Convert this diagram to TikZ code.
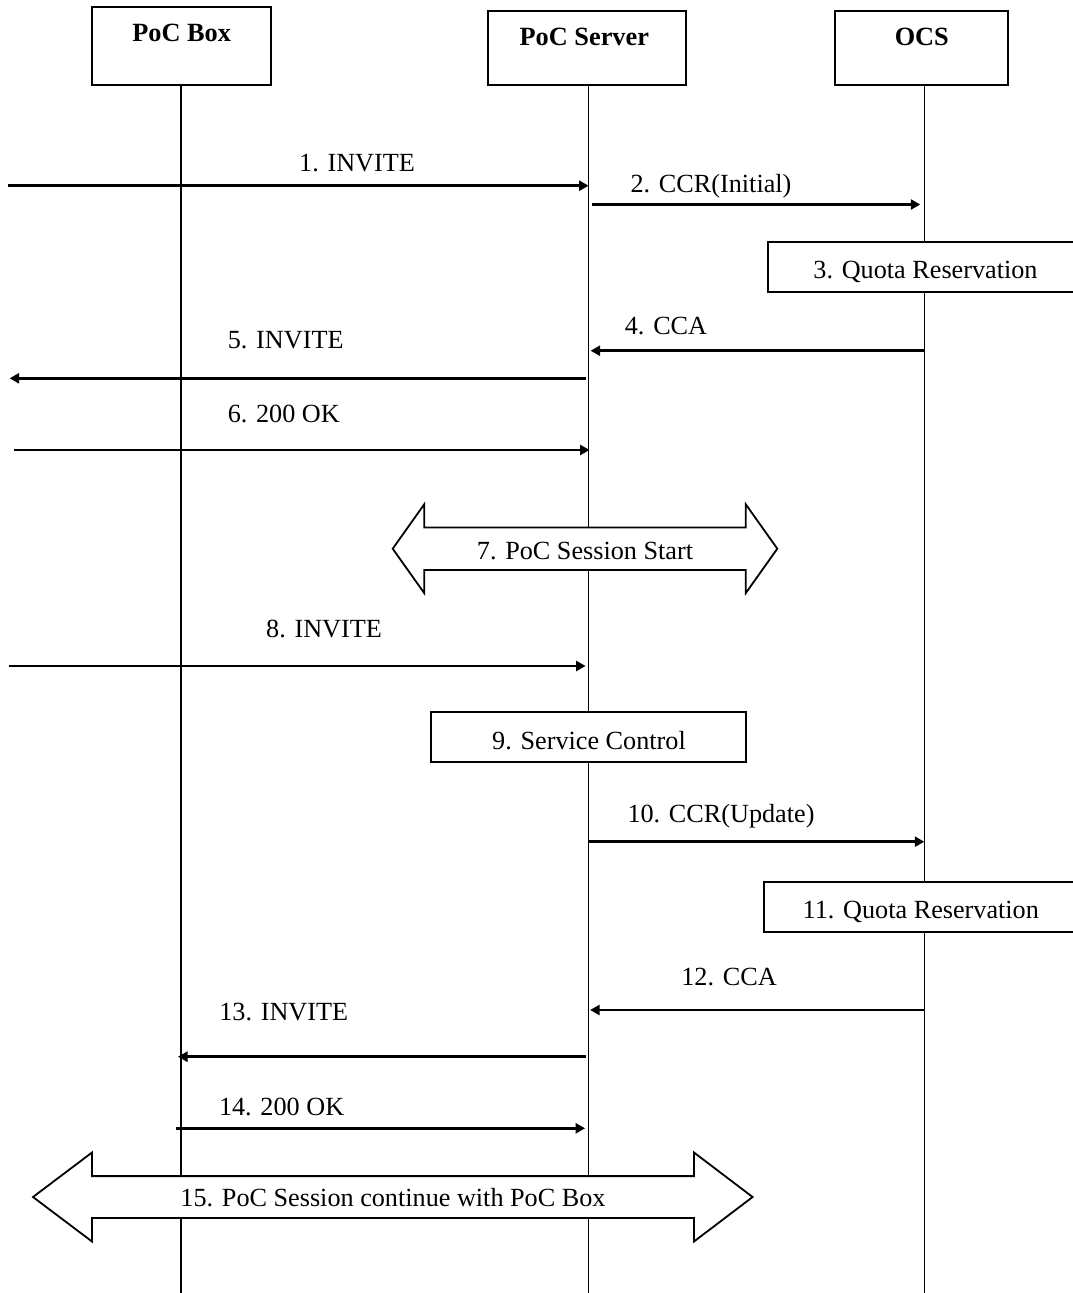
\documentclass[tikz,border=0pt]{standalone}
\usepackage{fontspec}
\setmainfont{Liberation Serif}
\usetikzlibrary{arrows.meta}
\begin{document}
\begin{tikzpicture}[x=1pt,y=-1pt,
  every node/.style={font=\fontsize{26.2}{31}\selectfont, inner sep=0pt, outer sep=0pt},
  actor/.style={draw, line width=1.8pt, fill=white},
  life/.style={line width=1.3pt},
  msg/.style={line width=2.6pt, -{Triangle[length=9.5pt,width=10pt]}},
  proc/.style={draw, line width=1.8pt, fill=white},
  lbl/.style={anchor=base},
  ttl/.style={anchor=base, font=\fontsize{26.3}{31}\selectfont\bfseries},
  session/.style={draw, line width=1.8pt, fill=white, line join=miter}
]
\useasboundingbox (0,0) rectangle (1072,1293);

% actors
\node[actor, minimum width=179.3pt, minimum height=78.6pt] (box) at (181.35,46.0) {};
\node[actor, minimum width=198.3pt, minimum height=74.6pt] (srv) at (586.85,48.0) {};
\node[actor, minimum width=173.2pt, minimum height=74.6pt] (ocs) at (921.2,48.0) {};
\node[ttl] (boxT) at (181.7,41.7) {PoC Box};
\node[ttl] (srvT) at (584.3,45) {PoC Server};
\node[ttl] (ocsT) at (921.8,45) {OCS};

% lifelines
\coordinate (boxtop) at (181,85.3);
\coordinate (srvtop) at (588.6,85.3);
\coordinate (ocstop) at (924.3,85.3);
\coordinate (bot) at (0,1293);
\draw[life] (boxtop) -- (boxtop |- bot);
\draw[life] (srvtop) -- (srvtop |- bot);
\draw[life] (ocstop) -- (ocstop |- bot);

% messages
\coordinate (m1) at (8,185.7);
\draw[msg] (m1) -- (srvtop |- m1);
\node[lbl] (l1) at (357,171.7) {1. INVITE};

\coordinate (m2) at (0,204.5);
\draw[msg, shorten <=3pt, shorten >=4pt] (srvtop |- m2) -- (ocstop |- m2);
\node[lbl] (l2) at (711,192.7) {2. CCR(Initial)};

\node[proc, anchor=north west, minimum width=320pt, minimum height=50pt] (p3) at (768,242) {};
\node[lbl] (l3) at (925.5,278.3) {3. Quota Reservation};

\coordinate (m4) at (0,350.7);
\draw[msg, shorten >=2pt] (ocstop |- m4) -- (srvtop |- m4);
\node[lbl] (l4) at (666,334.5) {4. CCA};

\coordinate (m5) at (9.6,378.3);
\draw[msg, shorten <=3pt] (srvtop |- m5) -- (m5);
\node[lbl] (l5) at (285.7,348.5) {5. INVITE};

\coordinate (m6) at (14,450);
\draw[msg, shorten >=-1pt] (m6) -- (srvtop |- m6);
\node[lbl] (l6) at (283.8,422.7) {6. 200 OK};

% 7. session start
\coordinate (s7) at (585,548.7);
\begin{scope}[shift={(s7)}]
\draw[session] (-192.3,0) -- (-160.7,-44.5) -- (-160.7,-21.2) -- (160.7,-21.2) -- (160.7,-44.5)
  -- (192.3,0) -- (160.7,44.5) -- (160.7,21.2) -- (-160.7,21.2) -- (-160.7,44.5) -- cycle;
\end{scope}
\node[lbl] (l7) at (585,559) {7. PoC Session Start};

\coordinate (m8) at (9,666);
\draw[msg, shorten >=3pt] (m8) -- (srvtop |- m8);
\node[lbl] (l8) at (324,637) {8. INVITE};

\node[proc, minimum width=314.6pt, minimum height=50.6pt] (p9) at (588.6,737) {};
\node[lbl] (l9) at (589,749.5) {9. Service Control};

\coordinate (m10) at (0,841.7);
\draw[msg] (srvtop |- m10) -- (ocstop |- m10);
\node[lbl] (l10) at (721,822) {10. CCR(Update)};

\node[proc, anchor=north west, minimum width=320pt, minimum height=50pt] (p11) at (764.3,882.3) {};
\node[lbl] (l11) at (920.8,918.3) {11. Quota Reservation};

\coordinate (m12) at (0,1010);
\draw[msg, shorten >=1.5pt] (ocstop |- m12) -- (srvtop |- m12);
\node[lbl] (l12) at (729,985) {12. CCA};

\coordinate (m13) at (0,1056.7);
\draw[msg, shorten <=2.5pt, shorten >=-3pt] (srvtop |- m13) -- (boxtop |- m13);
\node[lbl] (l13) at (283.7,1020) {13. INVITE};

\coordinate (m14) at (0,1128.3);
\draw[msg, shorten <=-5.5pt, shorten >=3.5pt] (boxtop |- m14) -- (srvtop |- m14);
\node[lbl] (l14) at (281.6,1115) {14. 200 OK};

% 15. session continue
\coordinate (s15) at (392.8,1197);
\begin{scope}[shift={(s15)}]
\draw[session] (-359.8,0) -- (-300.8,-44.5) -- (-300.8,-20.9) -- (301.2,-20.9) -- (301.2,-44.5)
  -- (359.8,0) -- (301.2,44.5) -- (301.2,20.9) -- (-300.8,20.9) -- (-300.8,44.5) -- cycle;
\end{scope}
\node[lbl] (l15) at (393,1206.5) {15. PoC Session continue with PoC Box};
\end{tikzpicture}
\end{document}
